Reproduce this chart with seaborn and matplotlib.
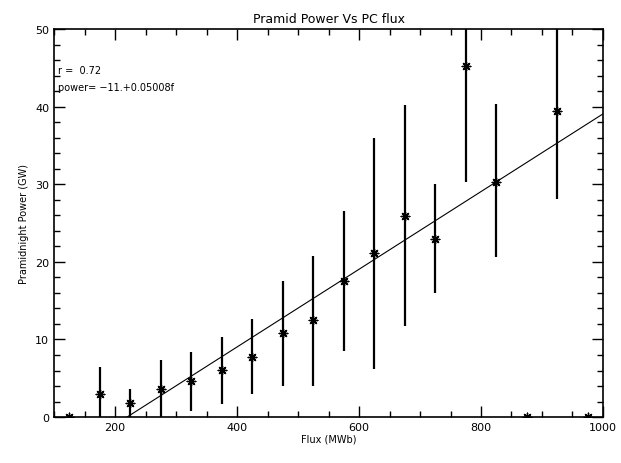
import numpy as np
import pandas as pd
import seaborn as sns
import matplotlib.pyplot as plt
from matplotlib.ticker import MultipleLocator

# binned flux centres and mean power with spread
flux = [125, 175, 225, 275, 325, 375, 425, 475, 525, 575, 625, 675, 725, 775, 825, 875, 925, 975]
power = [0.0, 3.0, 1.8, 3.6, 4.7, 6.1, 7.8, 10.8, 12.5, 17.5, 21.1, 25.9, 23.0, 45.3, 30.3, 0.0, 39.4, 0.0]
low = [0.0, 0.0, 0.0, 0.0, 0.8, 1.7, 3.0, 4.0, 4.0, 8.5, 6.2, 11.75, 16.0, 30.3, 20.6, 0.0, 28.1, 0.0]
high = [0.0, 6.4, 3.6, 7.4, 8.4, 10.3, 12.6, 17.6, 20.8, 26.5, 36.0, 40.2, 30.0, 60.3, 40.4, 0.0, 50.7, 0.0]

# fit shown in the annotation
intercept = -11.0
slope = 0.05008
r_value = 0.72

df = pd.DataFrame({"flux": flux, "power": power, "low": low, "high": high})

sns.set_style("ticks", {"axes.edgecolor": "black", "xtick.color": "black",
                        "ytick.color": "black", "text.color": "black",
                        "axes.labelcolor": "black"})
plt.rcParams['font.family'] = ['DejaVu Sans']

fig = plt.figure(figsize=(6.21, 4.64), dpi=100)
ax = fig.add_axes([0.087, 0.099, 0.884, 0.836])

ax.vlines(df["flux"], df["low"], df["high"], color="black", linewidth=1.6)
sns.scatterplot(data=df, x="flux", y="power", ax=ax, marker=(8, 2, 0), s=38,
                color="black", edgecolor="black", linewidth=1.0, zorder=3)

fit_x = np.array([100, 1000])
fit = pd.DataFrame({"flux": fit_x, "power": intercept + slope * fit_x})
sns.lineplot(data=fit, x="flux", y="power", ax=ax, color="black", linewidth=0.8)

ax.set_xlim(100, 1000)
ax.set_ylim(0, 50)
ax.xaxis.set_major_locator(MultipleLocator(200))
ax.xaxis.set_minor_locator(MultipleLocator(50))
ax.yaxis.set_major_locator(MultipleLocator(10))
ax.yaxis.set_minor_locator(MultipleLocator(2))
ax.tick_params(which="both", direction="in", top=True, right=True, labelsize=8,
               width=1, colors="black")
ax.tick_params(which="major", length=8)
ax.tick_params(which="minor", length=4)
for s in ax.spines.values():
    s.set_linewidth(1.2)
    s.set_color("black")

ax.set_title("Pramid Power Vs PC flux", fontsize=9, pad=5, color="black")
ax.set_xlabel("Flux (MWb)", fontsize=7, labelpad=1)
ax.set_ylabel("Pramidnight Power (GW)", fontsize=7, labelpad=4)

ax.text(106, 44.8, "r =  %.2f" % r_value, fontsize=7, va="center")
ax.text(106, 42.5, "power= \u221211.+0.05008f", fontsize=7, va="center")

fig.savefig("out.png", dpi=100)
